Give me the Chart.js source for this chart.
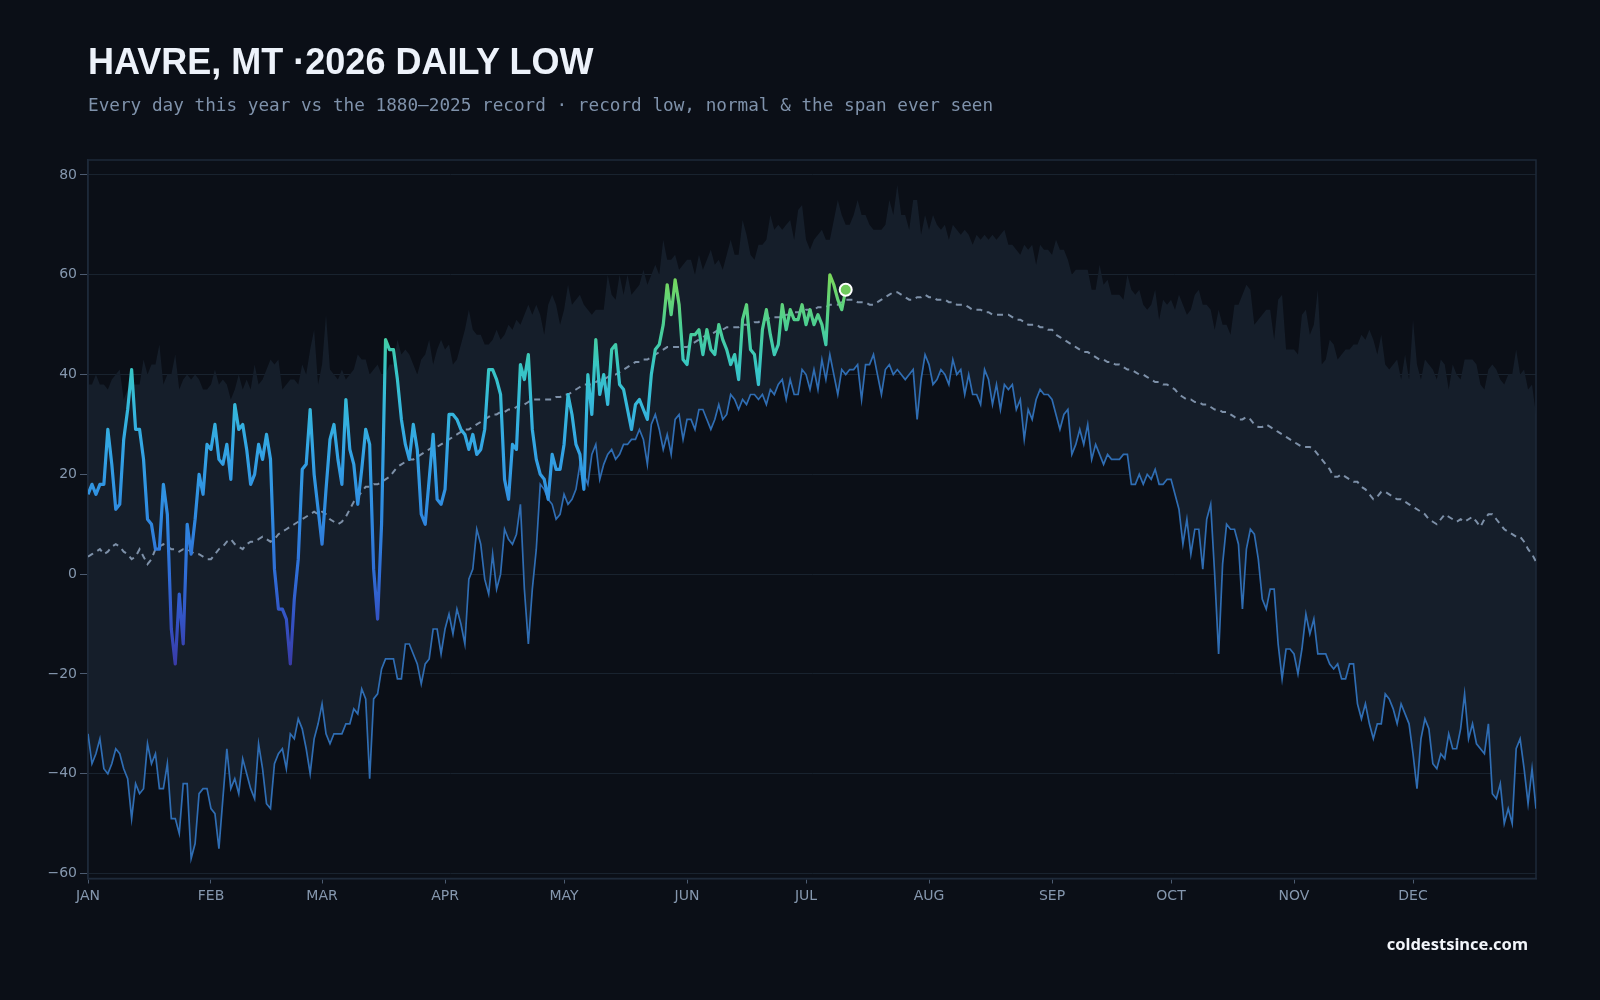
<!DOCTYPE html>
<html lang="en">
<head>
<meta charset="utf-8">
<title>Havre, MT 2026 daily low</title>
<script src="https://cdn.jsdelivr.net/npm/chart.js@4.4.1/dist/chart.umd.min.js"></script>
<style>
  html, body { margin: 0; padding: 0; background: #0b0f17; }
  .page { position: relative; width: 1600px; height: 1000px; overflow: hidden; background: #0b0f17; }
  #chart { position: absolute; left: 0; top: 0; }
  .title { position: absolute; left: 88px; top: 44px; z-index: 2; white-space: nowrap;
           font: bold 36px "Liberation Sans", "DejaVu Sans Condensed", sans-serif; line-height: 36px; color: #edf2fa; }
  .sub { position: absolute; left: 88px; top: 96px; z-index: 2; white-space: nowrap;
         font: 17.7px "DejaVu Sans Mono", monospace; line-height: 18px; color: #7f92ab; }
  .brand { position: absolute; right: 72px; top: 936px; z-index: 2;
           font: bold 16.5px "Noto Sans", sans-serif; line-height: 16px; color: #f2f5fa; }
</style>
</head>
<body>
<div class="page">
  <canvas id="chart" width="1600" height="1000"></canvas>
  <div class="title">HAVRE, MT ·2026 DAILY LOW</div>
  <div class="sub">Every day this year vs the 1880–2025 record · record low, normal &amp; the span ever seen</div>
  <div class="brand">coldestsince.com</div>
</div>

<script>
// axis labels
const MONTHS = ['JAN', 'FEB', 'MAR', 'APR', 'MAY', 'JUN', 'JUL', 'AUG', 'SEP', 'OCT', 'NOV', 'DEC'];
const MONTH_START = [0, 31, 59, 90, 120, 151, 181, 212, 243, 273, 304, 334];
const Y_TICKS = [-60, -40, -20, 0, 20, 40, 60, 80];

// highest daily low ever seen, 1880-2025 (top of the span)
const RECORD_HIGH = [
  38, 38, 40, 38, 38, 37, 39, 40, 41, 35,
  37, 38, 38, 38, 43, 40, 42, 42, 46, 38,
  40, 40, 44, 37, 39, 40, 39, 40, 39, 37,
  37, 38, 41, 38, 39, 38, 35, 37, 40, 37,
  39, 37, 42, 38, 39, 41, 43, 42, 43, 37,
  38, 39, 39, 38, 42, 40, 45, 49, 38, 42,
  52, 41, 40, 39, 41, 39, 40, 41, 44, 43,
  43, 40, 41, 42, 40, 40, 42, 42, 47, 44,
  45, 44, 42, 40, 43, 44, 47, 42, 45, 47,
  45, 46, 42, 43, 46, 49, 53, 49, 48, 48,
  46, 46, 47, 49, 47, 48, 50, 49, 51, 50,
  52, 54, 52, 54, 52, 48, 54, 56, 54, 50,
  53, 58, 54, 55, 56, 54, 53, 52, 53, 53,
  53, 60, 56, 55, 60, 56, 60, 56, 57, 58,
  61, 58, 60, 62, 60, 67, 63, 63, 64, 61,
  62, 63, 63, 60, 64, 61, 63, 65, 62, 63,
  61, 64, 67, 64, 64, 71, 68, 64, 63, 66,
  66, 67, 72, 69, 70, 69, 70, 71, 67, 73,
  74, 67, 65, 67, 68, 69, 67, 67, 71, 75,
  72, 70, 70, 72, 75, 72, 72, 70, 69, 69,
  69, 70, 75, 72, 78, 72, 72, 69, 75, 75,
  68, 72, 69, 72, 70, 69, 70, 67, 70, 69,
  68, 69, 68, 66, 68, 67, 68, 67, 68, 67,
  68, 69, 66, 66, 65, 64, 66, 65, 66, 62,
  66, 65, 65, 64, 67, 65, 65, 63, 60, 61,
  61, 61, 61, 57, 57, 62, 58, 59, 56, 56,
  56, 55, 60, 57, 56, 57, 54, 53, 54, 57,
  51, 55, 54, 55, 53, 56, 54, 52, 53, 56,
  57, 54, 54, 53, 49, 53, 50, 50, 48, 54,
  54, 56, 58, 57, 50, 51, 52, 53, 53, 47,
  55, 56, 45, 45, 45, 44, 52, 53, 48, 50,
  57, 42, 43, 47, 46, 43, 44, 45, 45, 46,
  46, 48, 47, 49, 47, 44, 48, 42, 41, 42,
  43, 39, 44, 39, 51, 42, 39, 43, 42, 41,
  39, 43, 42, 37, 42, 40, 39, 43, 43, 43,
  42, 38, 37, 41, 42, 41, 39, 38, 40, 40,
  45, 40, 41, 37, 38, 32
];

// record low for each day, 1880-2025
const RECORD_LOW = [
  -32, -38, -36, -33, -39, -40, -38, -35, -36, -39,
  -41, -49, -42, -44, -43, -34, -38, -36, -43, -43,
  -38, -49, -49, -52, -42, -42, -57, -54, -44, -43,
  -43, -47, -48, -55, -45, -35, -43, -41, -44, -37,
  -40, -43, -45, -34, -39, -46, -47, -38, -36, -35,
  -39, -32, -33, -29, -31, -35, -40, -33, -30, -26,
  -32, -34, -32, -32, -32, -30, -30, -27, -28, -23,
  -25, -41, -25, -24, -19, -17, -17, -17, -21, -21,
  -14, -14, -16, -18, -22, -18, -17, -11, -11, -16,
  -11, -8, -12, -7, -10, -14, -1, 1, 9, 6,
  -1, -4, 4, -3, 0, 9, 7, 6, 8, 14,
  -3, -14, -3, 5, 18, 17, 15, 14, 11, 12,
  16, 14, 15, 17, 22, 20, 18, 24, 26, 19,
  22, 24, 25, 23, 24, 26, 26, 27, 27, 29,
  27, 22, 30, 32, 29, 25, 28, 24, 31, 32,
  27, 31, 31, 29, 33, 33, 31, 29, 31, 34,
  31, 32, 36, 35, 33, 35, 34, 36, 36, 35,
  36, 34, 37, 36, 38, 39, 35, 39, 36, 36,
  41, 40, 37, 41, 37, 43, 39, 44, 40, 36,
  41, 40, 41, 41, 42, 35, 42, 42, 44, 40,
  36, 41, 42, 40, 41, 40, 39, 40, 41, 31,
  39, 44, 42, 38, 39, 41, 40, 38, 43, 40,
  41, 36, 40, 36, 36, 34, 41, 39, 34, 38,
  33, 38, 37, 38, 33, 35, 27, 33, 31, 35,
  37, 36, 36, 35, 32, 29, 32, 33, 24, 26,
  29, 26, 30, 23, 26, 24, 22, 24, 23, 23,
  23, 24, 24, 18, 18, 20, 18, 20, 19, 21,
  18, 18, 19, 19, 16, 13, 6, 11, 4, 9,
  9, 1, 11, 14, 0, -16, 2, 10, 9, 9,
  6, -7, 5, 9, 8, 3, -5, -7, -3, -3,
  -14, -21, -15, -15, -16, -20, -15, -8, -12, -9,
  -16, -16, -16, -18, -19, -18, -21, -21, -18, -18,
  -26, -29, -26, -30, -33, -30, -30, -24, -25, -27,
  -30, -26, -28, -30, -36, -43, -33, -29, -31, -38,
  -39, -36, -37, -32, -35, -35, -31, -24, -33, -30,
  -34, -35, -36, -30, -44, -45, -42, -50, -47, -50,
  -35, -33, -39, -46, -39, -47
];

// normal daily low
const NORMAL = [
  3.5, 4, 4.5, 5, 4, 4.5, 5.5, 6, 5.5, 4.5, 4,
  3, 3.5, 5, 3.5, 2, 3, 5, 5.5, 6, 5.5,
  5, 5, 4.5, 5, 5, 4.5, 4, 4, 3.5, 3,
  3, 4, 5, 5.5, 6.5, 7, 6, 5.5, 5, 6,
  6.5, 6.5, 7, 7.5, 7, 6.5, 7, 8, 8.5, 9,
  9.5, 10, 10.5, 11, 11.5, 12, 12.5, 12, 12.5, 12,
  11, 10.5, 10, 10.5, 11.5, 13, 14.5, 15.5, 16.5, 17.5,
  17.5, 18, 18, 18.5, 19, 19.5, 20.5, 21.5, 22, 22.5,
  23, 23, 23.5, 24, 24.5, 25, 25.5, 25.5, 26, 26.5,
  27, 27.5, 28, 28.5, 29, 29, 29.5, 30, 30.5, 31,
  31.5, 32, 32, 32.5, 32.5, 33, 33, 33.5, 34, 34,
  34.5, 35, 35, 35, 35, 35, 35, 35.5, 35.5, 36,
  36, 36.5, 37, 37.5, 38, 38, 38, 38.5, 39, 39,
  39.5, 40, 40, 40.5, 41, 41.5, 42, 42.5, 42.5, 43,
  43, 43.5, 44, 44.5, 45, 45.5, 45.5, 45.5, 45.5, 45.5,
  45.5, 46, 46.5, 47, 47.5, 48, 48, 48.5, 49, 49,
  49.5, 49.5, 49.5, 49.5, 50, 50, 50, 50.5, 50.5, 51,
  51, 51.5, 51.5, 51.5, 51.5, 52, 52, 52.5, 52.5, 52.5,
  53, 53, 53, 53.5, 53.5, 53.5, 54, 54, 54, 54.5,
  55, 55, 55, 54.5, 54.5, 54.5, 54, 54, 54.5, 55,
  55.5, 56, 56.5, 56.5, 56, 55.5, 55, 55, 55.5, 55.5,
  56, 55.5, 55.5, 55, 55, 55, 54.5, 54.5, 54, 54,
  54, 53.5, 53, 53, 53, 52.5, 52.5, 52, 52, 52,
  52, 52, 51.5, 51, 51, 50.5, 50, 50, 50, 49.5,
  49.5, 49, 49, 48, 47.5, 47, 46.5, 46, 45.5, 45,
  44.5, 44.5, 44, 43.5, 43, 43, 42.5, 42.5, 42, 42,
  41.5, 41, 41, 40.5, 40, 40, 39.5, 39, 38.5, 38.5,
  38, 38, 37.5, 37, 36, 35.5, 35, 35, 34.5, 34.5,
  34, 34, 33.5, 33, 33, 32.5, 32.5, 32, 31.5, 31,
  31, 31.5, 31, 30, 29.5, 29.5, 30, 29.5, 29, 28.5,
  28, 27.5, 27, 26.5, 26, 25.5, 25.5, 25.5, 25, 24,
  23, 22, 21, 19.5, 19.5, 20, 19.5, 19, 18.5, 18.5,
  17.5, 17, 16, 15, 15.5, 16.5, 16.5, 16, 15.5, 15,
  15, 14.5, 14, 13.5, 13, 12.5, 12, 11, 10.5, 10,
  11, 12, 11.5, 11, 10.5, 11, 10.5, 11, 11.5, 10.5,
  9.5, 11, 12, 12, 11, 10, 9, 8.5, 8, 7.5,
  7.5, 6.5, 5, 4, 2.5
];

// 2026 observed daily low, Jan 1 to Jul 11
const OBS_2026 = [
  16, 18, 16, 18, 18, 29, 22, 13, 14, 27,
  33, 41, 29, 29, 23, 11, 10, 5, 5, 18,
  12, -11, -18, -4, -14, 10, 4, 11, 20, 16,
  26, 25, 30, 23, 22, 26, 19, 34, 29, 30,
  25, 18, 20, 26, 23, 28, 23, 1, -7, -7,
  -9, -18, -5, 3, 21, 22, 33, 20, 13, 6,
  17, 27, 30, 23, 18, 35, 25, 22, 14, 21,
  29, 26, 1, -9, 10, 47, 45, 45, 39, 31,
  26, 23, 30, 25, 12, 10, 19, 28, 15, 14,
  17, 32, 32, 31, 29, 28, 25, 28, 24, 25,
  29, 41, 41, 39, 36, 19, 15, 26, 25, 42,
  39, 44, 29, 23, 20, 19, 15, 24, 21, 21,
  26, 36, 32, 26, 24, 17, 40, 32, 47, 36,
  40, 34, 45, 46, 38, 37, 33, 29, 34, 35,
  33, 31, 40, 45, 46, 50, 58, 52, 59, 54,
  43, 42, 48, 48, 49, 44, 49, 45, 44, 50,
  47, 45, 42, 44, 39, 51, 54, 45, 44, 38,
  49, 53, 48, 44, 46, 54, 49, 53, 51, 51,
  54, 50, 53, 50, 52, 50, 46, 60, 58, 55,
  53, 57
];

// colour of the 2026 line follows its value
const COLOR_STOPS = [
  [-20, '#3b37a0'], [-10, '#3450c2'], [0, '#2f6dd6'], [12, '#2f8ae0'],
  [25, '#33a4e4'], [35, '#36bbd9'], [42, '#38c7c2'], [50, '#4ccf92'], [60, '#7ad85a']
];

const TICK_COLOR = '#8597ae';
const TICK_FONT = { family: 'DejaVu Sans', size: 14 };

function pts(arr) {
  return arr.map((v, i) => ({ x: i, y: v }));
}

function valueGradient(context) {
  const chart = context.chart;
  if (!chart.chartArea) return '#33a4e4';
  const y = chart.scales.y;
  const lo = y.getPixelForValue(-20);
  const hi = y.getPixelForValue(60);
  const g = chart.ctx.createLinearGradient(0, lo, 0, hi);
  COLOR_STOPS.forEach(([v, c]) => g.addColorStop((v + 20) / 80, c));
  return g;
}

// thin frame round the plot area
const frame = {
  id: 'frame',
  beforeDatasetsDraw(chart) {
    const { ctx, chartArea: a } = chart;
    ctx.save();
    ctx.strokeStyle = '#1e2a3a';
    ctx.lineWidth = 1.5;
    ctx.strokeRect(a.left, a.top, a.right - a.left, a.bottom - a.top);
    ctx.restore();
  }
};

const lastIdx = OBS_2026.length - 1;

new Chart(document.getElementById('chart'), {
  type: 'line',
  data: {
    datasets: [
      {
        label: '2026',
        data: pts(OBS_2026),
        borderColor: valueGradient,
        borderWidth: 3.2,
        borderJoinStyle: 'round',
        pointRadius: c => (c.dataIndex === lastIdx ? 6 : 0),
        pointBackgroundColor: '#6fca5c',
        pointBorderColor: '#ffffff',
        pointBorderWidth: 2,
        tension: 0,
        order: 0
      },
      {
        label: 'Normal',
        data: pts(NORMAL),
        borderColor: '#7d90a8',
        borderWidth: 2,
        borderDash: [6, 5],
        pointRadius: 0,
        order: 1
      },
      {
        label: 'Record low',
        data: pts(RECORD_LOW),
        borderColor: '#2f6db3',
        borderWidth: 1.7,
        pointRadius: 0,
        order: 2
      },
      {
        label: 'Record high',
        data: pts(RECORD_HIGH),
        borderWidth: 0,
        borderColor: 'rgba(0,0,0,0)',
        backgroundColor: '#151e2a',
        fill: 2,
        pointRadius: 0,
        order: 3
      }
    ]
  },
  options: {
    responsive: false,
    animation: false,
    devicePixelRatio: 1,
    layout: { padding: { left: 0, right: 64, top: 160, bottom: 91.5 } },
    plugins: {
      legend: { display: false },
      tooltip: { enabled: false },
      filler: { drawTime: 'beforeDatasetsDraw' }
    },
    scales: {
      x: {
        type: 'linear',
        min: 0,
        max: 365,
        afterBuildTicks: ax => { ax.ticks = MONTH_START.map(v => ({ value: v })); },
        afterFit: ax => { ax.height = 30; },
        ticks: {
          autoSkip: false,
          maxRotation: 0,
          padding: 4,
          color: TICK_COLOR,
          font: TICK_FONT,
          callback: v => MONTHS[MONTH_START.indexOf(v)]
        },
        grid: { drawOnChartArea: false, tickLength: 5, color: '#1e2a3a', tickColor: '#4c5b70' },
        border: { color: '#1e2a3a', width: 1.5 }
      },
      y: {
        min: -61,
        max: 83,
        afterBuildTicks: ax => { ax.ticks = Y_TICKS.map(v => ({ value: v })); },
        afterFit: ax => { ax.width = 88; },
        ticks: {
          padding: 3,
          color: TICK_COLOR,
          font: TICK_FONT,
          callback: v => String(v).replace('-', '\u2212')
        },
        grid: { color: '#19232f', tickLength: 8, tickColor: '#4c5b70' },
        border: { color: '#1e2a3a', width: 1.5 }
      }
    }
  },
  plugins: [frame]
});
</script>
</body>
</html>
